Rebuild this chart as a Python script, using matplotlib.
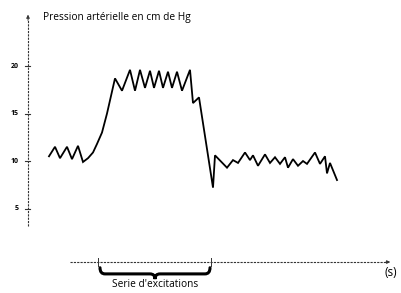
import numpy as np
import matplotlib.pyplot as plt
from matplotlib.path import Path
from matplotlib.patches import PathPatch

# temps (unites arbitraires) et pression (cm de Hg)
t = [2.1, 2.7, 3.2, 3.9, 4.4, 5.0, 5.5, 6.0, 6.5, 6.9, 7.4, 7.9, 8.7,
     9.4, 10.2, 10.7, 11.2, 11.7, 12.2, 12.6, 13.1, 13.5, 14.0, 14.4, 14.9,
     15.4, 16.2, 16.5, 17.1, 18.5, 18.7, 19.9, 20.5, 21.0, 21.7, 22.2, 22.5,
     23.0, 23.7, 24.2, 24.7, 25.2, 25.7, 26.0, 26.5, 27.0, 27.5, 27.9, 28.7,
     29.2, 29.7, 29.9, 30.2, 30.9]
p = [10.5, 11.5, 10.3, 11.5, 10.2, 11.6, 9.9, 10.3, 10.9, 11.8, 13.0, 15.0,
     18.7, 17.4, 19.6, 17.4, 19.6, 17.7, 19.5, 17.7, 19.5, 17.7, 19.4, 17.7,
     19.4, 17.4, 19.6, 16.1, 16.7, 7.2, 10.6, 9.3, 10.1, 9.8, 10.9, 10.1,
     10.6, 9.5, 10.7, 9.8, 10.4, 9.7, 10.4, 9.3, 10.2, 9.5, 10.0, 9.7, 10.9,
     9.7, 10.5, 8.7, 9.8, 8.0]
yticks = [5, 10, 15, 20]
exc_start, exc_end = 7.0, 18.3

plt.rcParams['font.family'] = ['Open Sans', 'DejaVu Sans']
fig = plt.figure(figsize=(4.02, 2.93), dpi=100)
ax = fig.add_axes([0, 0, 1, 1])
ax.set_xlim(-2.8, 37.4)
ax.set_ylim(-3.89, 26.95)
ax.axis('off')

dash = (0, (2, 1))
# axe vertical
ax.plot([0, 0], [3.2, 25.0], color='#333333', lw=0.8, ls=dash)
ax.annotate('', xy=(0, 25.7), xytext=(0, 24.5),
            arrowprops=dict(arrowstyle='-|>', color='#333333', lw=0.6,
                            mutation_scale=5))
for v in yticks:
    ax.plot([-0.25, 0.25], [v, v], color='#333333', lw=0.8)
    ax.text(-0.9, v, str(v), ha='right', va='center', fontsize=5,
            fontweight='bold')
ax.text(1.5, 25.1, 'Pression artérielle en cm de Hg', fontsize=7.3,
        ha='left', va='center')

# axe horizontal
y_ax = -0.63
ax.plot([4.2, 36.0], [y_ax, y_ax], color='#333333', lw=0.8, ls=dash)
ax.annotate('', xy=(36.5, y_ax), xytext=(35.5, y_ax),
            arrowprops=dict(arrowstyle='-|>', color='#333333', lw=0.6,
                            mutation_scale=5))
for xt in [exc_start, exc_end]:
    ax.plot([xt, xt], [y_ax - 0.45, y_ax + 0.45], color='#333333', lw=0.7)
ax.text(35.7, y_ax - 1.15, '(s)', fontsize=8.5, ha='left', va='center')

# accolade
a, b = exc_start + 0.2, exc_end - 0.1
m = (a + b) / 2
yt, ym, yb = y_ax - 0.6, y_ax - 1.25, y_ax - 1.8
verts = [(a, yt), (a, ym), (a + 0.5, ym), (m - 0.5, ym), (m, ym), (m, yb),
         (m, ym), (m + 0.5, ym), (b - 0.5, ym), (b, ym), (b, yt)]
codes = [Path.MOVETO, Path.CURVE3, Path.CURVE3, Path.LINETO, Path.CURVE3,
         Path.CURVE3, Path.CURVE3, Path.CURVE3, Path.LINETO, Path.CURVE3,
         Path.CURVE3]
ax.add_patch(PathPatch(Path(verts, codes), fill=False, lw=2.2,
                       color='black', capstyle='round'))
ax.text(m, y_ax - 2.4, "Serie d'excitations", fontsize=7.3,
        ha='center', va='center')

# courbe
ax.plot(t, p, color='black', lw=1.3, solid_joinstyle='miter')

fig.savefig('out.png', dpi=100)
